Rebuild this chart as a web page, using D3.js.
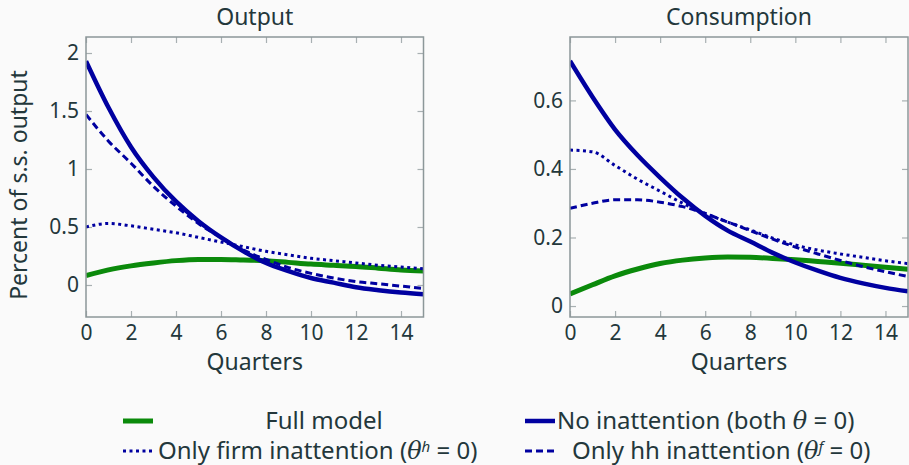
<!DOCTYPE html>
<html><head><meta charset="utf-8">
<script src="https://cdn.jsdelivr.net/npm/d3@7"></script>
<style>
html,body{margin:0;padding:0;background:#FAFAFA;}
svg{display:block;font-family:"Noto Sans","Open Sans",sans-serif;}
</style></head>
<body>
<svg id="chart" width="909" height="465"></svg>
<script>
const quarters = d3.range(0, 16);
// Output panel (percent of s.s. output)
const outFull   = [0.08, 0.13, 0.165, 0.19, 0.21, 0.22, 0.22, 0.215, 0.21, 0.195, 0.18, 0.17, 0.16, 0.145, 0.13, 0.12];
const outNoIn   = [1.93, 1.53, 1.19, 0.93, 0.72, 0.55, 0.41, 0.29, 0.19, 0.12, 0.06, 0.02, -0.02, -0.045, -0.065, -0.08];
const outFirm   = [0.50, 0.53, 0.51, 0.48, 0.45, 0.41, 0.37, 0.33, 0.29, 0.26, 0.23, 0.21, 0.19, 0.17, 0.155, 0.14];
const outHH     = [1.47, 1.24, 1.05, 0.85, 0.68, 0.53, 0.41, 0.30, 0.22, 0.15, 0.10, 0.06, 0.03, 0.01, -0.01, -0.03];
// Consumption panel
const conFull   = [0.035, 0.062, 0.088, 0.108, 0.124, 0.134, 0.140, 0.143, 0.142, 0.139, 0.135, 0.130, 0.125, 0.119, 0.113, 0.107];
const conNoIn   = [0.715, 0.61, 0.515, 0.44, 0.375, 0.315, 0.263, 0.22, 0.188, 0.155, 0.127, 0.103, 0.082, 0.066, 0.053, 0.043];
const conFirm   = [0.455, 0.45, 0.41, 0.37, 0.335, 0.30, 0.27, 0.245, 0.222, 0.198, 0.178, 0.163, 0.152, 0.142, 0.132, 0.124];
const conHH     = [0.285, 0.30, 0.31, 0.31, 0.303, 0.29, 0.27, 0.245, 0.22, 0.195, 0.172, 0.152, 0.133, 0.115, 0.10, 0.086];

const xTicks = [0, 2, 4, 6, 8, 10, 12, 14];
const outYTicks = [0, 0.5, 1, 1.5, 2];
const outYLabels = ["0", "0.5", "1", "1.5", "2"];
const conYTicks = [0, 0.2, 0.4, 0.6];
const conYLabels = ["0", "0.2", "0.4", "0.6"];

const seriesNames = ["Full model", "No inattention", "Only firm inattention", "Only hh inattention"];

const BLUE = "#0000a0", GREEN = "#0b8a0b", TXT = "#23373b", FRAME = "#8c9799", TICK = "#a8b0b2";
const styles = [
  {color: GREEN, width: 5, dash: null},
  {color: BLUE, width: 4.5, dash: null},
  {color: BLUE, width: 3, dash: "3,3.5"},
  {color: BLUE, width: 3, dash: "7,4"}
];

const svg = d3.select("#chart");

function panel(cfg){
  const x = d3.scaleLinear().domain([0, 15]).range([cfg.x0, cfg.x1]);
  const y = d3.scaleLinear().domain(cfg.ydom).range([cfg.y1, cfg.y0]);
  const g = svg.append("g");
  const clipId = "clip" + cfg.id;
  svg.append("defs").append("clipPath").attr("id", clipId)
    .append("rect").attr("x", cfg.x0).attr("y", cfg.y0).attr("width", cfg.x1 - cfg.x0).attr("height", cfg.y1 - cfg.y0);

  const bottom = d3.axisBottom(x).tickValues(xTicks).tickSizeInner(-6).tickSizeOuter(0).tickPadding(8).tickFormat(d3.format("d"));
  const top = d3.axisTop(x).tickValues(xTicks).tickSizeInner(-6).tickSizeOuter(0).tickFormat("");
  const left = d3.axisLeft(y).tickValues(cfg.yTicks).tickSizeInner(-6).tickSizeOuter(0).tickPadding(7).tickFormat((d,i) => cfg.yLabels[i]);
  const right = d3.axisRight(y).tickValues(cfg.yTicks).tickSizeInner(-6).tickSizeOuter(0).tickFormat("");

  const axes = [
    g.append("g").attr("transform", `translate(0,${cfg.y1})`).call(bottom),
    g.append("g").attr("transform", `translate(0,${cfg.y0})`).call(top),
    g.append("g").attr("transform", `translate(${cfg.x0},0)`).call(left),
    g.append("g").attr("transform", `translate(${cfg.x1},0)`).call(right)
  ];
  axes.forEach(a => {
    a.attr("font-size", 21).attr("font-family", "Noto Sans, sans-serif");
    a.select(".domain").remove();
    a.selectAll(".tick line").attr("stroke", TICK).attr("stroke-width", 1.2);
    a.selectAll(".tick text").attr("fill", TXT);
  });

  const line = d3.line().x((d,i) => x(quarters[i])).y(d => y(d)).curve(d3.curveMonotoneX);
  const lg = g.append("g").attr("clip-path", `url(#${clipId})`);
  const order = [0, 2, 3, 1];
  order.forEach(k => {
    const st = styles[k];
    lg.append("path").datum(cfg.data[k]).attr("d", line)
      .attr("fill", "none").attr("stroke", st.color).attr("stroke-width", st.width)
      .attr("stroke-dasharray", st.dash);
  });

  g.append("rect").attr("x", cfg.x0).attr("y", cfg.y0).attr("width", cfg.x1 - cfg.x0).attr("height", cfg.y1 - cfg.y0)
    .attr("fill", "none").attr("stroke", FRAME).attr("stroke-width", 1.5);

  g.append("text").attr("x", (cfg.x0 + cfg.x1) / 2).attr("y", 25).attr("text-anchor", "middle")
    .attr("fill", TXT).attr("font-size", 23).text(cfg.title);
  g.append("text").attr("x", (cfg.x0 + cfg.x1) / 2).attr("y", 370).attr("text-anchor", "middle")
    .attr("fill", TXT).attr("font-size", 23).text("Quarters");
}

panel({id: 1, x0: 86, x1: 423.5, y0: 37, y1: 317, ydom: [-0.276, 2.138], yTicks: outYTicks, yLabels: outYLabels,
  data: [outFull, outNoIn, outFirm, outHH], title: "Output"});
panel({id: 2, x0: 570, x1: 908, y0: 37, y1: 317, ydom: [-0.032, 0.785], yTicks: conYTicks, yLabels: conYLabels,
  data: [conFull, conNoIn, conFirm, conHH], title: "Consumption"});

svg.append("text").attr("transform", "translate(27,185) rotate(-90)").attr("text-anchor", "middle")
  .attr("fill", TXT).attr("font-size", 23).text("Percent of s.s. output");

const legend = svg.append("g");
const legItems = [
  {k: 0, sx: 123, y: 421, tx: 324, anchor: "middle"},
  {k: 1, sx: 525, y: 421, tx: 557, anchor: "start"},
  {k: 2, sx: 123, y: 451, tx: 158, anchor: "start"},
  {k: 3, sx: 525, y: 451, tx: 572, anchor: "start"}
];
legItems.forEach(it => {
  const st = styles[it.k];
  legend.append("line").attr("x1", it.sx).attr("x2", it.sx + 30).attr("y1", it.y).attr("y2", it.y)
    .attr("stroke", st.color).attr("stroke-width", st.width).attr("stroke-dasharray", st.dash);
  const t = legend.append("text").attr("x", it.tx).attr("y", it.y + 8).attr("text-anchor", it.anchor)
    .attr("fill", TXT).attr("font-size", 24);
  if (it.k === 0) t.text(seriesNames[0]);
  if (it.k === 1) {
    t.append("tspan").text(seriesNames[1] + " (both ");
    t.append("tspan").attr("font-style", "italic").attr("font-family", "DejaVu Serif, serif").text("θ");
    t.append("tspan").text(" = 0)");
  }
  if (it.k === 2 || it.k === 3) {
    t.append("tspan").text(seriesNames[it.k] + " (");
    t.append("tspan").attr("font-style", "italic").attr("font-family", "DejaVu Serif, serif").text("θ");
    t.append("tspan").attr("dy", -7).attr("font-size", 15).attr("font-style", "italic").text(it.k === 2 ? "h" : "f");
    t.append("tspan").attr("dy", 7).text(" = 0)");
  }
});
</script>
</body></html>
